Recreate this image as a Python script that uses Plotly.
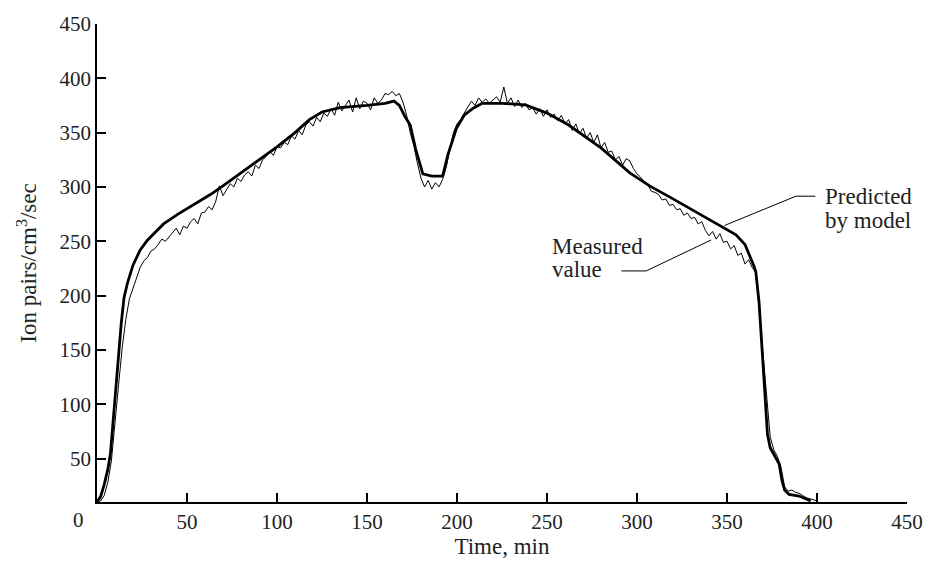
import plotly.graph_objects as go

# ---- data ----
measured_time = list(range(0, 401, 2))
measured_value = [
    10, 11, 16, 28, 48, 80, 118, 152, 178, 197,
    207, 216, 226, 232, 235, 241, 243, 247, 252, 250,
    254, 257, 262, 256, 264, 262, 268, 271, 266, 276,
    277, 282, 279, 287, 301, 292, 297, 303, 300, 308,
    305, 311, 314, 310, 320, 317, 325, 328, 333, 329,
    337, 336, 341, 339, 347, 344, 352, 348, 357, 360,
    356, 364, 360, 368, 365, 372, 366, 378, 370, 375,
    380, 369, 382, 372, 379, 377, 371, 382, 377, 380,
    386, 385, 388, 384, 386, 378, 366, 350, 338, 322,
    308, 300, 306, 298, 304, 300, 307, 318, 335, 350,
    358, 362, 368, 374, 379, 375, 382, 378, 381, 377,
    380, 383, 378, 392, 377, 382, 374, 380, 373, 377,
    371, 373, 367, 372, 365, 371, 364, 367, 361, 366,
    358, 362, 352, 358, 349, 354, 345, 350, 341, 348,
    336, 341, 332, 333, 325, 328, 320, 326, 324, 317,
    312, 309, 305, 302, 296, 295, 293, 288, 289, 283,
    284, 279, 280, 274, 276, 271, 272, 266, 268, 260,
    255, 259, 252, 257, 249, 250, 243, 246, 237, 239,
    229, 233, 226, 221, 185, 148, 105, 70, 58, 52,
    42, 24, 20, 21, 19, 18, 16, 14, 13, 12,
    11,
]

predicted_time = [0, 2, 4, 6, 7.5, 9, 10.5, 12, 13.5, 15,
                  17, 20, 24, 28, 32, 37, 45, 55, 63, 70,
                  80, 94, 100, 110, 118, 125, 135, 150, 160, 165,
                  168, 171, 174, 177, 181, 186, 192, 195, 199.7, 204,
                  209, 214, 225, 238, 250, 262, 280, 296, 307, 320,
                  333, 346, 355, 360, 363, 365, 366, 367.8, 369.7, 371,
                  372.5, 374, 376, 379, 380.5, 382, 384.5, 390, 396.5]
predicted_value = [10, 15, 26, 40, 55, 85, 115, 150, 175, 198,
                   212, 228, 242, 251, 258, 266, 275, 285, 293, 301,
                   313, 329, 337, 350, 362, 369, 373, 375, 377, 379,
                   375, 365, 357, 335, 312, 310, 310, 330, 354, 366,
                   372.5, 377, 377, 375.5, 368, 357, 336, 313, 301, 289,
                   277, 265, 256, 247, 236, 227, 222, 194, 145, 110,
                   72, 60, 54.5, 45, 30, 21, 17, 15.5, 11]

x_ticks = [50, 100, 150, 200, 250, 300, 350, 400, 450]
y_ticks = [50, 100, 150, 200, 250, 300, 350, 400, 450]

FONT = "Liberation Serif"
TICK_FS = 21
TITLE_FS = 23
ANN_FS = 23
INK = "#222"

fig = go.Figure()
fig.add_trace(go.Scatter(x=measured_time, y=measured_value, mode="lines",
                         line=dict(color="black", width=1), name="Measured value",
                         showlegend=False))
fig.add_trace(go.Scatter(x=predicted_time, y=predicted_value, mode="lines",
                         line=dict(color="black", width=2.8), name="Predicted by model",
                         showlegend=False))

# leader lines
for (x0, y0, x1, y1) in [(291.3, 222.7, 305.1, 222.7), (305.1, 222.7, 341.2, 251.2),
                         (399.1, 291.5, 388.3, 291.5), (388.3, 291.5, 348.6, 264.5)]:
    fig.add_shape(type="line", xref="x", yref="y", x0=x0, y0=y0, x1=x1, y1=y1,
                  line=dict(color="black", width=1))

ann_font = dict(family=FONT, size=ANN_FS, color=INK)
for txt, x, y in [("Measured", 251.5, 245.5), ("value", 251.5, 223.6),
                  ("Predicted", 403.5, 290.9), ("by model", 403.5, 269.4)]:
    fig.add_annotation(x=x, y=y, xref="x", yref="y", text=txt, showarrow=False,
                       xanchor="left", yanchor="middle", font=ann_font)

# shared origin label
fig.add_annotation(x=-0.023, y=-0.037, xref="paper", yref="paper", text="0",
                   showarrow=False, xanchor="center", yanchor="middle",
                   font=dict(family=FONT, size=TICK_FS, color=INK))

fig.update_layout(
    width=935, height=565,
    margin=dict(l=97, r=27, t=18, b=63),
    paper_bgcolor="white", plot_bgcolor="white",
    font=dict(family=FONT, size=TICK_FS, color=INK),
    xaxis=dict(range=[0, 450], tickvals=x_ticks, ticks="inside", ticklen=9,
               tickwidth=1.5, tickcolor="black", showline=True, linecolor="black",
               linewidth=1.5, showgrid=False, zeroline=False,
               title=dict(text="Time, min", standoff=2,
                          font=dict(family=FONT, size=TITLE_FS, color=INK)),
               tickfont=dict(family=FONT, size=TICK_FS, color=INK)),
    yaxis=dict(range=[10, 450], tickvals=y_ticks, ticks="inside", ticklen=9,
               tickwidth=1.5, tickcolor="black", showline=True, linecolor="black",
               linewidth=1.5, showgrid=False, zeroline=False,
               title=dict(text="Ion pairs/cm<sup>3</sup>/sec", standoff=16,
                          font=dict(family=FONT, size=TITLE_FS, color=INK)),
               tickfont=dict(family=FONT, size=TICK_FS, color=INK)),
)

fig.write_html("out.html")
